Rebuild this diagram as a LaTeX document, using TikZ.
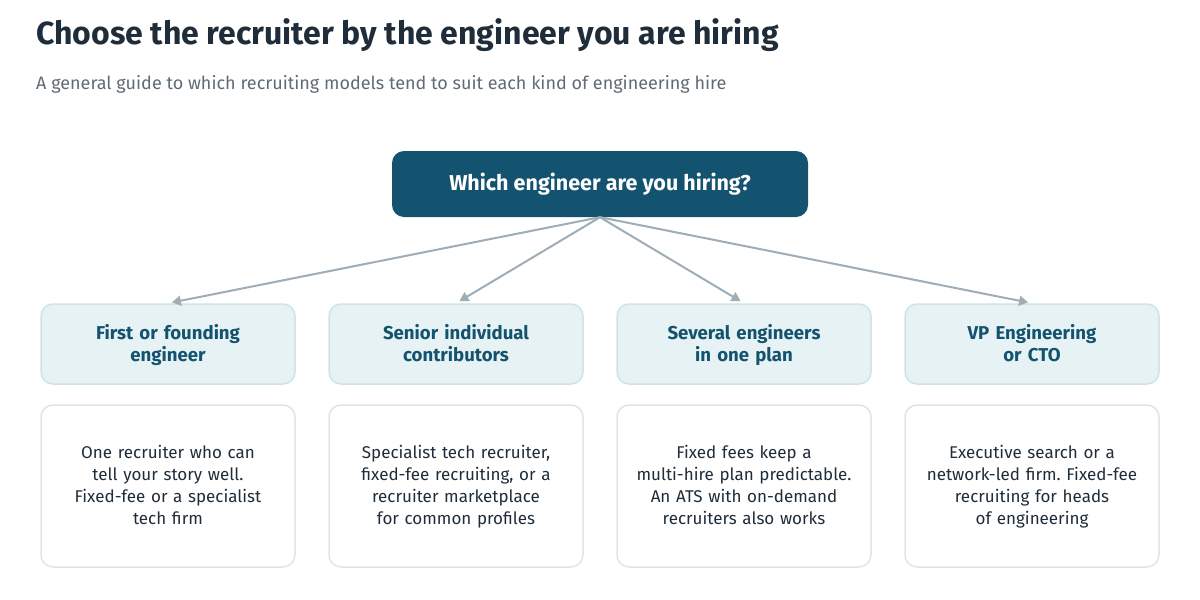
\documentclass[tikz,border=0pt]{standalone}
\usepackage{fontspec}
\setmainfont{Fira Sans}
\usetikzlibrary{arrows.meta,positioning}
\definecolor{navy}{HTML}{14536F}
\definecolor{ink}{HTML}{1F2D3A}
\definecolor{slate}{HTML}{5F6B75}
\definecolor{wire}{HTML}{9EADB6}
\definecolor{mint}{HTML}{E6F2F3}
\definecolor{mintline}{HTML}{D0E3E5}
\definecolor{cardline}{HTML}{DDE6E8}
\frenchspacing
\begin{document}
\begin{tikzpicture}[x=1pt,y=-1pt,line join=round,>={Triangle[length=9pt,width=10pt]}]
 \tikzset{kind/.style={draw=mintline,line width=1.5pt,fill=mint,rounded corners=12pt,
   minimum width=254pt,minimum height=80pt,text width=240pt,align=center,text=navy,
   font=\fontsize{18.6}{22}\selectfont\bfseries,
   execute at begin node={\rule{0pt}{19.4pt}},execute at end node=\strut},
 card/.style={draw=cardline,line width=1.5pt,fill=white,rounded corners=12pt,
   minimum width=254pt,minimum height=162pt,text width=240pt,align=center,text=ink,
   font=\fontsize{17}{22}\selectfont,
   execute at begin node={\rule{0pt}{17.4pt}},execute at end node=\strut},
 link/.style={->,draw=wire,line width=2pt,shorten >=4pt}
 }
 \useasboundingbox (0,0) rectangle (1200,600);
 \node[anchor=base west,text=ink,font=\fontsize{32}{36}\selectfont\bfseries,inner sep=0pt] (title) at (36,44) {Choose the recruiter by the engineer you are hiring};
 \node[anchor=base west,text=slate,font=\fontsize{18}{20}\selectfont,inner sep=0pt] (sub) at (36,89) {A general guide to which recruiting models tend to suit each kind of engineering hire};
 \node[fill=navy,rounded corners=12pt,minimum width=416pt,minimum height=66pt,text=white,
   font=\fontsize{21.5}{22}\selectfont\bfseries] (ask) at (600,184) {Which engineer are you hiring?};
 % kinds of hire
 \node[kind] (first) at (168,344) {First or founding\\engineer};
 \node[kind] (senior) at (456,344) {Senior individual\\contributors};
 \node[kind] (several) at (744,344) {Several engineers\\in one plan};
 \node[kind] (vp) at (1032,344) {VP Engineering\\or CTO};
 % advice
 \node[card] (firstc) at (168,486) {One recruiter who can\\tell your story well.\\Fixed-fee or a specialist\\tech firm};
 \node[card] (seniorc) at (456,486) {Specialist tech recruiter,\\fixed-fee recruiting, or a\\recruiter marketplace\\for common profiles};
 \node[card] (severalc) at (744,486) {Fixed fees keep a\\multi-hire plan predictable.\\An ATS with on-demand\\recruiters also works};
 \node[card] (vpc) at (1032,486) {Executive search or a\\network-led firm. Fixed-fee\\recruiting for heads\\of engineering};
 \draw[link] (ask.south) -- (first.north);
 \draw[link] (ask.south) -- (senior.north);
 \draw[link] (ask.south) -- (several.north);
 \draw[link] (ask.south) -- (vp.north);
\end{tikzpicture}
\end{document}
